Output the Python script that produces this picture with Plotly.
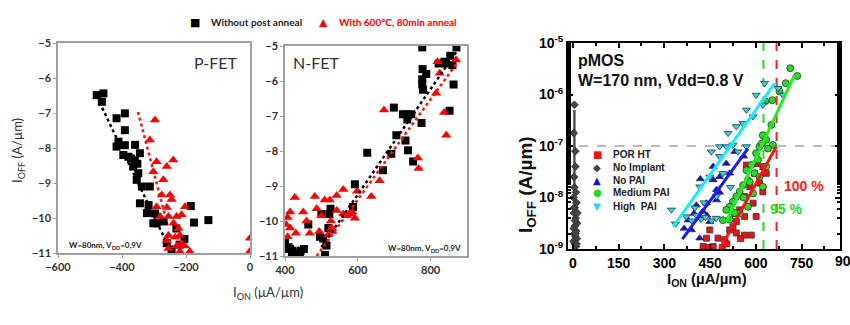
import plotly.graph_objects as go

W, H = 850, 325


def fx(p):
    return p / W


def fy(p):
    return 1 - p / H


# ---------------- P-FET data (I_ON uA/um, log10 I_OFF) ----------------
pfet_plain_ion = [-479, -458, -463, -417, -391, -391, -411, -417, -391, -359, -396, -380,
                  -372, -344, -365, -349, -354, -338, -313, -344, -317, -322, -297, -292,
                  -302, -185, -175, -130, -260, -245, -220, -205, -230, -270, -360, -352]
pfet_plain_ioff = [-6.49, -6.44, -6.68, -7.15, -7.01, -7.49, -7.82, -7.96, -7.92, -7.91, -8.2, -8.25,
                   -8.3, -8.15, -8.53, -8.72, -8.91, -9.1, -9.1, -9.58, -9.63, -9.86, -9.87, -10.15,
                   -10.15, -9.66, -10.13, -10.06, -10.72, -10.9, -10.76, -10.6, -10.3, -10.1, -8.35, -8.45]
pfet_ann_ion = [-297, -313, -292, -302, -260, -240, -271, -276, -250, -245, -292, -260, -203,
                -255, -229, -214, -239, -224, -219, -234, -255, -214, -229, -255, -203, -188,
                -219, -260, -281, 0, 0]
pfet_ann_ioff = [-7.2, -7.77, -8.39, -8.68, -8.53, -8.34, -8.91, -9.34, -9.34, -9.47, -9.68, -9.7, -9.68,
                 -9.96, -9.96, -9.91, -10.15, -10.3, -10.5, -10.55, -10.5, -10.72, -10.8, -10.87, -10.8, -10.96,
                 -10.96, -10.65, -9.96, -10.58, -10.95]
pfet_plain_fit_ion = [-470, -245]
pfet_plain_fit_ioff = [-6.7, -11.0]
pfet_ann_fit_ion = [-350, -255]
pfet_ann_fit_ioff = [-6.97, -10.3]

# ---------------- N-FET data ----------------
nfet_plain_ion = [777, 871, 854, 822, 843, 860, 778, 788, 777, 777, 779, 863, 852, 699, 724, 733,
                  747, 736, 706, 731, 738, 752, 775, 626, 692, 669, 592, 587, 525, 522, 500, 464,
                  496, 505, 514, 510, 519, 400, 400, 414, 420, 433, 443, 452, 419, 441, 410, 838]
nfet_plain_ioff = [-5.04, -5.04, -5.28, -5.5, -5.5, -5.55, -5.66, -5.8, -5.95, -6.1, -6.25, -6.1, -6.85,
                   -6.76, -6.95, -6.95, -6.95, -7.1, -7.55, -7.7, -7.98, -8.3, -7.2, -8.05, -8.08, -8.55,
                   -8.95, -9.6, -9.65, -9.8, -9.8, -10.1, -10.45, -10.5, -10.7, -10.97, -10.2, -10.6,
                   -10.8, -10.8, -10.85, -10.9, -10.85, -10.8, -10.95, -11.0, -10.75, -5.45]
nfet_ann_ion = [672, 819, 825, 815, 870, 837, 843, 765, 767, 660, 637, 598, 560, 542, 509, 523,
                482, 427, 450, 414, 407, 403, 414, 407, 430, 459, 468, 487, 494, 500, 542, 560,
                570, 592, 526, 530, 528, 518, 578, 585]
nfet_ann_ioff = [-6.83, -5.45, -5.78, -6.35, -5.4, -6.9, -7.55, -8.2, -8.5, -8.85, -9.3, -9.15, -9.1,
                 -9.27, -9.4, -9.4, -9.3, -9.33, -9.74, -9.74, -9.9, -10.1, -10.2, -10.45, -10.35, -10.0,
                 -10.35, -9.65, -10.3, -9.85, -9.7, -9.8, -9.85, -9.92, -10.0, -10.3, -10.2, -10.4,
                 -9.8, -9.75]
nfet_plain_fit_ion = [500, 875]
nfet_plain_fit_ioff = [-10.75, -5.1]
nfet_ann_fit_ion = [487, 875]
nfet_ann_fit_ioff = [-11.0, -5.45]

# ---------------- pMOS data (I_ON uA/um, log10 I_OFF) ----------------
por_ion = [569, 601, 596, 623, 634, 612, 623, 580, 563, 591, 547, 531, 563, 536, 525, 563, 585, 536,
           514, 438, 427, 460, 476, 498, 449, 601, 445, 490, 505, 550]
por_log = [-7.37, -7.34, -7.53, -7.4, -7.53, -7.72, -7.89, -7.79, -7.98, -8.11, -8.24, -8.31, -8.37,
           -8.47, -8.57, -8.73, -8.73, -8.69, -8.63, -8.79, -8.95, -8.95, -8.79, -8.82, -8.63, -8.37,
           -8.97, -8.97, -8.9, -8.8]
noimp_ion = [3, 8, 5, 10, 2, 12, 6, 4, 9, 14, 7, 3, 11, 5, 8, 13, 2, 6, 10, 4, 15, 7, 9, 3, 12, 5, 8]
noimp_log = [-6.75, -7.4, -7.8, -7.9, -8.0, -8.1, -8.2, -8.3, -8.4, -8.5, -8.55, -8.6, -8.65, -8.7,
             -8.75, -8.8, -8.85, -8.9, -8.95, -7.6, -8.3, -8.45, -8.7, -8.2, -8.9, -6.2, -7.1]
noimp_bar_ion = [5, 5]
noimp_bar_log = [-9.0, -6.3]
nopai_ion = [365, 378, 397, 416, 426, 449, 416, 389, 418, 460, 481, 514, 503, 460, 531, 471, 481, 438,
             471, 440, 405, 560]
nopai_log = [-8.6, -8.44, -8.31, -8.4, -8.27, -8.47, -8.79, -8.63, -7.64, -7.66, -7.6, -7.53, -7.34,
             -7.4, -7.11, -7.85, -7.9, -8.11, -8.05, -8.35, -8.15, -7.2]
med_ion = [713, 736, 698, 678, 654, 631, 651, 623, 634, 656, 612, 601, 607, 585, 596, 569, 574, 558,
           547, 536, 525, 514, 503, 514, 492, 547, 574, 591, 612, 634, 623, 620, 640, 580, 530, 560]
med_log = [-5.49, -5.64, -5.78, -5.94, -6.11, -6.13, -6.59, -6.79, -6.88, -6.98, -7.01, -7.14, -7.27,
           -7.37, -7.53, -7.47, -7.66, -7.76, -7.89, -7.98, -8.08, -8.18, -8.24, -8.43, -8.44, -8.31,
           -8.18, -7.92, -7.6, -7.4, -7.79, -6.95, -7.05, -7.7, -8.3, -8.0]
high_ion = [323, 336, 372, 390, 405, 420, 435, 455, 470, 454, 481, 481, 503, 525, 541, 569, 509, 536,
            558, 591, 569, 601, 629, 673, 689, 623, 416, 449, 492, 517, 471, 430, 400]
high_log = [-8.24, -8.51, -8.37, -8.45, -8.35, -8.42, -8.38, -8.45, -8.4, -7.11, -7.01, -7.2, -7.01,
            -6.98, -7.11, -7.01, -6.75, -6.62, -6.56, -6.43, -6.3, -6.01, -5.78, -5.88, -6.01, -6.2,
            -7.79, -7.6, -7.53, -7.8, -7.98, -8.1, -8.2]
high_fit_ion = [329, 662]
high_fit_log = [-8.57, -5.78]
nopai_fit_ion = [359, 574]
nopai_fit_log = [-8.81, -7.05]
med_fit_ion = [503, 727]
med_fit_log = [-8.47, -5.62]
por_fit_ion = [481, 667]
por_fit_log = [-9.02, -7.01]
limit_95_ion = 625
limit_100_ion = 668
ref_ioff = 1e-7

fn_tick_labels = [-600, -400, -200, 0]
n_tick_labels = [400, 600, 800]
p_ticks = [0, 150, 300, 450, 600, 750]
log_ticks = [-9, -8, -7, -6, -5]

fet_series = ["Without post anneal", "With 600°C, 80min anneal"]
fet_symbols = ["■", "▲"]
fet_colors = ["#000000", "#ff0000"]
pmos_series = ["POR HT", "No Implant", "No PAI", "Medium PAI", "High  PAI"]
pmos_symbols = ["■", "◆", "▲", "●", "▼"]
pmos_colors = ["#ee1111", "#444444", "#1010dd", "#22dd22", "#22d8e8"]


def tolin(vals):
    return [10 ** v for v in vals]


fig = go.Figure()

# P-FET
fig.add_trace(go.Scatter(x=pfet_plain_fit_ion, y=pfet_plain_fit_ioff, mode="lines",
                         line=dict(color="black", width=2.5, dash="dot"), xaxis="x", yaxis="y"))
fig.add_trace(go.Scatter(x=pfet_ann_fit_ion, y=pfet_ann_fit_ioff, mode="lines",
                         line=dict(color="#ff1010", width=2.5, dash="dot"), xaxis="x", yaxis="y"))
fig.add_trace(go.Scatter(x=pfet_plain_ion, y=pfet_plain_ioff, mode="markers", name=fet_series[0],
                         marker=dict(symbol="square", size=8, color=fet_colors[0]),
                         xaxis="x", yaxis="y"))
fig.add_trace(go.Scatter(x=pfet_ann_ion, y=pfet_ann_ioff, mode="markers", name=fet_series[1],
                         marker=dict(symbol="triangle-up", size=9, color=fet_colors[1]),
                         xaxis="x", yaxis="y"))
# N-FET
fig.add_trace(go.Scatter(x=nfet_plain_ion, y=nfet_plain_ioff, mode="markers", name=fet_series[0],
                         marker=dict(symbol="square", size=8, color=fet_colors[0]),
                         xaxis="x2", yaxis="y2"))
fig.add_trace(go.Scatter(x=nfet_ann_ion, y=nfet_ann_ioff, mode="markers", name=fet_series[1],
                         marker=dict(symbol="triangle-up", size=9, color=fet_colors[1]),
                         xaxis="x2", yaxis="y2"))
fig.add_trace(go.Scatter(x=nfet_plain_fit_ion, y=nfet_plain_fit_ioff, mode="lines",
                         line=dict(color="black", width=2.5, dash="dot"), xaxis="x2", yaxis="y2"))
fig.add_trace(go.Scatter(x=nfet_ann_fit_ion, y=nfet_ann_fit_ioff, mode="lines",
                         line=dict(color="#ff1010", width=2.5, dash="dot"), xaxis="x2", yaxis="y2"))

# pMOS reference lines
fig.add_trace(go.Scatter(x=[20, 876], y=[ref_ioff, ref_ioff], mode="lines",
                         line=dict(color="#777777", width=1, dash="dash"), xaxis="x3", yaxis="y3"))
fig.add_trace(go.Scatter(x=[limit_95_ion, limit_95_ion], y=[1e-9, 1e-5], mode="lines",
                         line=dict(color="#22dd22", width=2, dash="dash"), xaxis="x3", yaxis="y3"))
fig.add_trace(go.Scatter(x=[limit_100_ion, limit_100_ion], y=[1e-9, 1e-5], mode="lines",
                         line=dict(color="#ff2020", width=2, dash="dash"), xaxis="x3", yaxis="y3"))
fig.add_trace(go.Scatter(x=noimp_bar_ion, y=tolin(noimp_bar_log), mode="lines",
                         line=dict(color="#555555", width=2.5), xaxis="x3", yaxis="y3"))

mk_line = dict(color="#333333", width=0.8)
pmos_data = [(por_ion, por_log, "square", 6), (noimp_ion, noimp_log, "diamond", 6),
             (nopai_ion, nopai_log, "triangle-up", 7), (med_ion, med_log, "circle", 7),
             (high_ion, high_log, "triangle-down", 7)]
for (xs, ys, sym, sz), name, col in zip(pmos_data, pmos_series, pmos_colors):
    fig.add_trace(go.Scatter(x=xs, y=tolin(ys), mode="markers", name=name,
                             marker=dict(symbol=sym, size=sz, color=col, line=mk_line),
                             xaxis="x3", yaxis="y3"))
for xs, ys, col in [(high_fit_ion, high_fit_log, "#11eeff"), (nopai_fit_ion, nopai_fit_log, "#1a1aff"),
                    (med_fit_ion, med_fit_log, "#22ee22"), (por_fit_ion, por_fit_log, "#ff1111")]:
    fig.add_trace(go.Scatter(x=xs, y=tolin(ys), mode="lines", line=dict(color=col, width=3),
                             xaxis="x3", yaxis="y3"))

small_font = dict(family="Lato", size=11, color="#333333", weight="bold")
gray = "#a0a0a0"
common_small = dict(showgrid=False, zeroline=False, showline=True, linecolor=gray, linewidth=1.5,
                    mirror=True, ticks="outside", ticklen=3, tickcolor=gray, tickfont=small_font,
                    automargin=False)

big_tick = dict(family="Liberation Sans", size=14, color="black", weight="bold")

fig.update_layout(
    width=W, height=H, margin=dict(l=0, r=0, t=0, b=0, pad=0, autoexpand=False),
    paper_bgcolor="white", plot_bgcolor="white", showlegend=False,
    xaxis=dict(domain=[fx(58), fx(250)], range=[-600, 0], tickvals=fn_tick_labels, anchor="y",
               **common_small),
    yaxis=dict(domain=[fy(253), fy(43)], range=[-11, -5], dtick=1, anchor="x", **common_small),
    xaxis2=dict(domain=[fx(285), fx(467)], range=[400, 900], tickvals=n_tick_labels, anchor="y2",
                **common_small),
    yaxis2=dict(domain=[fy(256), fy(46)], range=[-11, -5], dtick=1, anchor="x2", **common_small),
    xaxis3=dict(domain=[fx(568), fx(840)], range=[-16, 876], tickvals=p_ticks, anchor="y3",
                showgrid=False, zeroline=False, showline=True, linecolor="black", linewidth=2,
                mirror="allticks", ticks="inside", ticklen=5, tickwidth=1.5, tickcolor="black",
                tickfont=big_tick, automargin=False,
                minor=dict(ticks="inside", ticklen=3, dtick=75, tickcolor="black")),
    yaxis3=dict(domain=[fy(249), fy(43)], type="log", range=[-9, -5], tickvals=tolin(log_ticks),
                ticktext=["10<sup>%d</sup>" % v for v in log_ticks], anchor="x3",
                showgrid=False, zeroline=False, showline=True, linecolor="black", linewidth=2,
                mirror="allticks", ticks="inside", ticklen=5, tickwidth=1.5, tickcolor="black",
                tickfont=big_tick, automargin=False,
                minor=dict(ticks="inside", ticklen=3, tickcolor="black")),
)

ann = [
    dict(text="P-FET", x=fx(216), y=fy(62), font=dict(family="Lato", size=16, color="#333333")),
    dict(text="N-FET", x=fx(316), y=fy(62), font=dict(family="Lato", size=16, color="#333333")),
    dict(text="W=80nm, V<sub>DD</sub>=0,9V", x=fx(105), y=fy(245),
         font=dict(family="Lato", size=8, color="#222222", weight="bold")),
    dict(text="W=80nm, V<sub>DD</sub>=0,9V", x=fx(424), y=fy(248),
         font=dict(family="Lato", size=8, color="#222222", weight="bold")),
    dict(text="I<sub>OFF</sub> (A/µm)", x=fx(18), y=fy(151), textangle=-90,
         font=dict(family="Lato", size=13, color="#333333")),
    dict(text="I<sub>ON</sub> (µA/µm)", x=fx(268), y=fy(293),
         font=dict(family="Lato", size=13, color="#333333")),
    dict(text="pMOS", x=fx(576), y=fy(60), xanchor="left",
         font=dict(family="Liberation Sans", size=16, color="#111111", weight="bold")),
    dict(text="W=170 nm, Vdd=0.8 V", x=fx(576), y=fy(80), xanchor="left",
         font=dict(family="Liberation Sans", size=16, color="#111111", weight="bold")),
    dict(text="100 %", x=fx(804), y=fy(186),
         font=dict(family="Liberation Sans", size=14, color="#ff2020", weight="bold")),
    dict(text="95 %", x=fx(786), y=fy(209),
         font=dict(family="Liberation Sans", size=14, color="#22dd22", weight="bold")),
    dict(text="I<sub>OFF</sub> (A/µm)", x=fx(527), y=fy(185), textangle=-90,
         font=dict(family="Liberation Sans", size=19, color="#111111", weight="bold")),
    dict(text="I<sub>ON</sub> (µA/µm)", x=fx(707), y=fy(279),
         font=dict(family="Liberation Sans", size=15, color="#111111", weight="bold")),
    dict(text="900", x=fx(847), y=fy(261), font=big_tick),
]
# top legend (FET panels)
for name, sym, col, sx in zip(fet_series, fet_symbols, fet_colors, [195, 323]):
    ann.append(dict(text=sym, x=fx(sx), y=fy(22),
                    font=dict(family="DejaVu Sans", size=11, color=col)))
    ann.append(dict(text=name, x=fx(sx + 14), y=fy(22), xanchor="left",
                    font=dict(family="Lato", size=10, color=("#222222" if col == "#000000" else col),
                              weight="bold")))
# pMOS legend (inside the plot)
for i, (name, sym, col) in enumerate(zip(pmos_series, pmos_symbols, pmos_colors)):
    yy = 154 + 13 * i
    ann.append(dict(text=sym, x=fx(597), y=fy(yy),
                    font=dict(family="DejaVu Sans", size=10, color=col)))
    ann.append(dict(text=name, x=fx(611), y=fy(yy), xanchor="left",
                    font=dict(family="Liberation Sans", size=10, color="#222222", weight="bold")))

for a in ann:
    a.setdefault("xref", "paper")
    a.setdefault("yref", "paper")
    a.setdefault("xanchor", "center")
    a.setdefault("yanchor", "middle")
    a.setdefault("showarrow", False)
    fig.add_annotation(**a)

fig.write_html("out.html")
